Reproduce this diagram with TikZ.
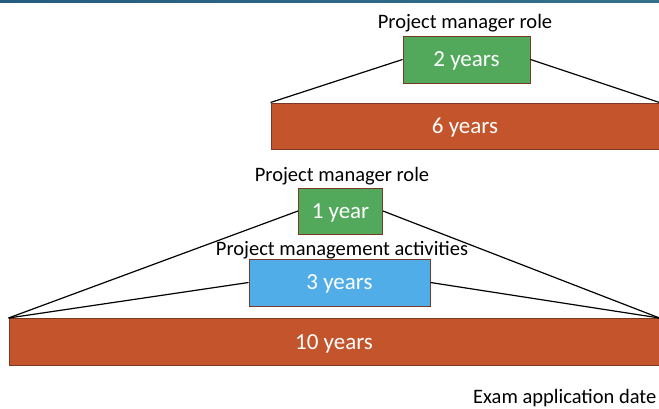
\documentclass[tikz,border=0pt]{standalone}
\usepackage{fontspec}
\setmainfont{Carlito}
\definecolor{orangefill}{RGB}{196,84,43}
\definecolor{greenfill}{RGB}{82,169,92}
\definecolor{bluefill}{RGB}{80,173,232}
\definecolor{boxedge}{RGB}{120,58,36}
\definecolor{barleft}{RGB}{38,92,128}
\definecolor{barright}{RGB}{52,112,140}
\begin{document}
\begin{tikzpicture}[x=1pt,y=-1pt,
  yearbox/.style={draw=boxedge, line width=1pt, inner sep=0pt, text=white,
    font=\fontsize{23}{25}\selectfont, text height=14.5pt, text depth=0pt},
  caption/.style={font=\fontsize{20.5}{23}\selectfont, inner sep=0pt, anchor=base},
  link/.style={draw=black, line width=1.2pt}]
\useasboundingbox (0,0) rectangle (659,408);
% top bar
\shade[left color=barleft, right color=barright] (0,0) rectangle (659,2);
% first group
\node[caption] (l1) at (465,28) {Project manager role};
\node[yearbox, fill=greenfill, minimum width=127pt, minimum height=47pt] (g1) at (466.5,59.5) {2 years};
\node[yearbox, fill=orangefill, minimum width=388pt, minimum height=46pt] (o1) at (465,126) {6 years};
\draw[link] (g1.west) -- (o1.north west);
\draw[link] (g1.east) -- (o1.north east);
% second group
\node[caption] (l2) at (342,181) {Project manager role};
\node[yearbox, fill=greenfill, minimum width=84pt, minimum height=46pt] (g2) at (340.5,211) {1 year};
\node[caption] (l3) at (342,255) {Project management activities};
\node[yearbox, fill=bluefill, minimum width=181pt, minimum height=47pt] (b2) at (339.5,282.5) {3 years};
\node[yearbox, fill=orangefill, minimum width=650pt, minimum height=47pt] (o2) at (334,342) {10 years};
\draw[link] (g2.west) -- (o2.north west);
\draw[link] (g2.east) -- (o2.north east);
\draw[link] (b2.west) -- (o2.north west);
\draw[link] (b2.east) -- (o2.north east);
% exam date
\node[caption, anchor=base west] (ex) at (473,403) {Exam application date};
\end{tikzpicture}
\end{document}
